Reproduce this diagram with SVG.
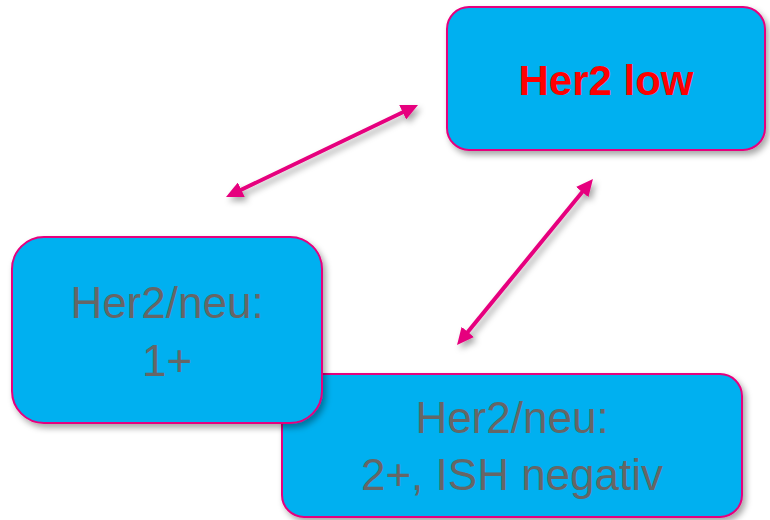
<svg xmlns="http://www.w3.org/2000/svg" width="770" height="520" viewBox="0 0 770 520">
<defs>
<filter id="sh" x="-10%" y="-10%" width="125%" height="130%">
<feDropShadow dx="3" dy="4" stdDeviation="3" flood-color="#000" flood-opacity="0.35"/>
</filter>
<marker id="ah" markerUnits="userSpaceOnUse" markerWidth="18" markerHeight="16" refX="3" refY="8" orient="auto-start-reverse">
<path d="M0,0 L17,8 L0,16 Z" fill="#E6007E"/>
</marker>
</defs>
<style>
.box{fill:#00B0F0;stroke:#E6007E;stroke-width:2;filter:url(#sh)}
.t{font-family:"Liberation Sans",Arial,sans-serif;text-anchor:middle}
.g{fill:#666666;font-size:44px}
.r{fill:#FF0000;font-size:42px;font-weight:bold}
.c{stroke:#E6007E;stroke-width:4;fill:none;marker-start:url(#ah);marker-end:url(#ah)}
</style>
<g id="connectors" filter="url(#sh)">
<line class="c" x1="238.6" y1="191.0" x2="405.4" y2="111.0"/>
<line class="c" x1="584.1" y1="189.8" x2="465.9" y2="334.2"/>
</g>
<g id="node-her2low">
<rect class="box" x="447" y="7" width="318" height="143" rx="22"/>
<text class="t r" x="606" y="95">Her2 low</text>
</g>
<g id="node-2plus">
<rect class="box" x="282" y="374" width="460" height="143" rx="22"/>
<text class="t g" x="512" y="433">Her2/neu:</text>
<text class="t g" x="512" y="490">2+, ISH negativ</text>
</g>
<g id="node-1plus">
<rect class="box" x="12" y="237" width="310" height="186" rx="32"/>
<text class="t g" x="167" y="318">Her2/neu:</text>
<text class="t g" x="167" y="376">1+</text>
</g>
</svg>
